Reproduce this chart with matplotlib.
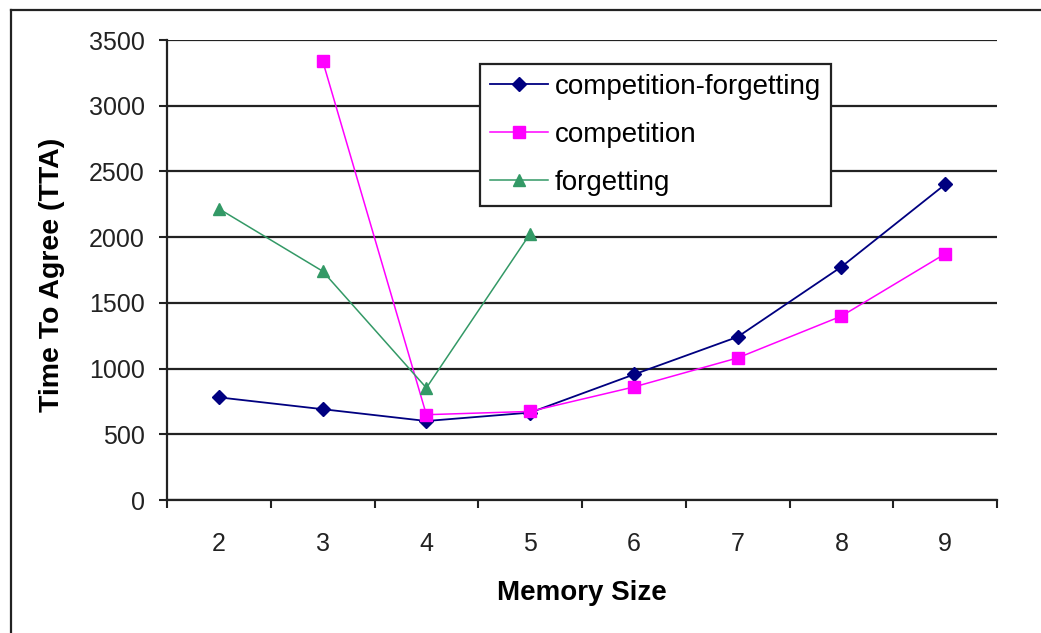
import matplotlib

matplotlib.use("Agg")

import matplotlib.pyplot as plt
import numpy as np
from matplotlib.lines import Line2D

# memory sizes on the x axis
memory_sizes = ["2", "3", "4", "5", "6", "7", "8", "9"]

# time to agree per series (nan = no point)
comp_forgetting = [781, 691, 601, 665, 955, 1241, 1774, 2401]
competition = [np.nan, 3342, 649, 674, 860, 1081, 1399, 1873]
forgetting = [2216, 1741, 853, 2026, np.nan, np.nan, np.nan, np.nan]

y_ticks = [0, 500, 1000, 1500, 2000, 2500, 3000, 3500]

W, H = 1041, 633
plt.rcParams["font.family"] = ["Liberation Sans", "DejaVu Sans"]

fig = plt.figure(figsize=(W / 100, H / 100), dpi=100)
ax = fig.add_axes([167 / W, 1 - 500 / H, (997 - 167) / W, 460 / H])

x = np.arange(len(memory_sizes))

ax.plot(x, comp_forgetting, color="#000080", lw=1.3, marker="D", ms=7,
        label="competition-forgetting")
ax.plot(x, competition, color="#FF00FF", lw=1.1, marker="s", ms=8.5,
        label="competition")
ax.plot(x, forgetting, color="#339966", lw=1.1, marker="^", ms=9,
        label="forgetting")

ax.set_xlim(-0.5, len(memory_sizes) - 0.5)
ax.set_ylim(0, 3500)
ax.set_yticks(y_ticks)
ax.set_yticklabels([str(v) for v in y_ticks], fontsize=18, color="#222222")
ax.set_xticks(x)
ax.set_xticklabels(memory_sizes, fontsize=18, color="#222222")
ax.set_xticks(np.arange(len(memory_sizes) + 1) - 0.5, minor=True)
ax.tick_params(axis="x", which="major", length=0, pad=23)
ax.tick_params(axis="x", which="minor", length=6, width=1.5, color="#222222")
ax.tick_params(axis="y", length=6, width=1.5, color="#222222", pad=10)

ax.yaxis.grid(True, color="#222222", lw=1.6)
ax.set_axisbelow(True)
for side in ("top", "right"):
    ax.spines[side].set_visible(False)
for side in ("left", "bottom"):
    ax.spines[side].set_linewidth(1.6)
    ax.spines[side].set_color("#222222")

leg = ax.legend(
    loc="upper left",
    bbox_to_anchor=(480 / W, 1 - 64 / H),
    bbox_transform=fig.transFigure,
    fontsize=20,
    frameon=True,
    fancybox=False,
    framealpha=1,
    edgecolor="#222222",
    handlelength=2.1,
    handletextpad=0.25,
    labelspacing=0.8,
    borderpad=0.35,
    borderaxespad=0,
)
leg.get_frame().set_linewidth(1.6)

fig.text(582 / W, 1 - 593 / H, "Memory Size", fontsize=20, fontweight="bold",
         ha="center", va="center")
fig.text(52 / W, 1 - 275 / H, "Time To Agree (TTA)", fontsize=20.5,
         fontweight="bold", rotation=90, ha="center", va="center")

# outer chart border (runs off the right and bottom edges)
fig.add_artist(Line2D([11 / W, 11 / W], [0, 1 - 10 / H], color="#222222",
                      lw=1.6, transform=fig.transFigure))
fig.add_artist(Line2D([11 / W, 1], [1 - 10 / H, 1 - 10 / H], color="#222222",
                      lw=1.6, transform=fig.transFigure))

fig.savefig("out.png", dpi=100)
